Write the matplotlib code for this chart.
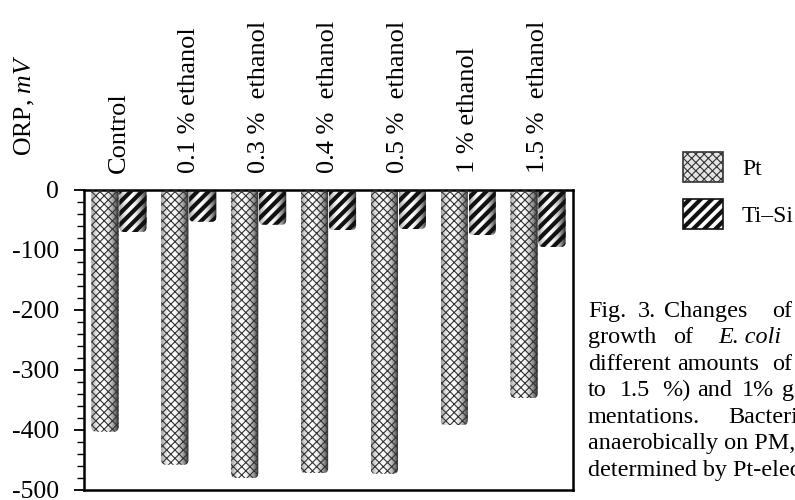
import numpy as np
import matplotlib
matplotlib.use('Agg')
import matplotlib.pyplot as plt
from matplotlib.patches import Patch, FancyBboxPatch
from matplotlib.ticker import MultipleLocator

# data
categories = ['Control', '0.1 % ethanol', '0.3 %  ethanol', '0.4 %  ethanol',
              '0.5 %  ethanol', '1 % ethanol', '1.5 %  ethanol']
pt_values = [-403, -458, -480, -472, -473, -392, -347]
tisi_values = [-70, -53, -58, -67, -65, -75, -95]
series_names = ['Pt', 'Ti\u2013Si']
yticks = [0, -100, -200, -300, -400, -500]

# caption words per line (justified text, cut off at the right edge)
caption_words = [['Fig.', '3.', 'Changes', 'of'],
                 ['growth', 'of', 'E. coli'],
                 ['different', 'amounts', 'of'],
                 ['to', '1.5', '%)', 'and', '1%', 'g'],
                 ['mentations.', 'Bacteri'],
                 ['anaerobically on PM,'],
                 ['determined by Pt-elec']]
italic_words = ['E. coli']

plt.rcParams['font.family'] = ['Liberation Serif', 'DejaVu Serif']
plt.rcParams['mathtext.fontset'] = 'custom'
plt.rcParams['mathtext.rm'] = 'Liberation Serif'
plt.rcParams['mathtext.it'] = 'Liberation Serif:italic'
plt.rcParams['axes.unicode_minus'] = False

W, H = 795, 500
fig = plt.figure(figsize=(W / 100, H / 100), dpi=100)
ax_box = [0.1057, 0.02, 0.615, 0.60]
ax = fig.add_axes(ax_box)
ax.set_xlim(-0.5, len(categories) - 0.5)
ax.set_ylim(-500, 0)

x = np.arange(len(categories))
w = 0.39

# pixel scale of the data units, used for rounding the bar ends
xunit_px = ax_box[2] * W / len(categories)
yunit_px = ax_box[3] * H / 500
aspect = xunit_px / yunit_px
rad = 5 / xunit_px

# horizontal shading to give the bars a cylinder look
prof = np.linspace(-1, 1, 64)
shade = (1.0 - 0.6 * np.abs(prof + 0.2) ** 2.0).reshape(1, -1)


def make_bars(vals, offset, hatch, hlw, hcolor):
    with plt.rc_context({'hatch.linewidth': hlw, 'hatch.color': hcolor}):
        bars = ax.bar(x + offset, vals, w, facecolor='none', edgecolor=hcolor,
                      linewidth=0, hatch=hatch, zorder=3)
    for b in bars:
        if hasattr(b, 'set_hatch_linewidth'):
            b.set_hatch_linewidth(hlw)
        x0, y0 = b.get_x(), b.get_y()
        bw, bh = b.get_width(), b.get_height()
        bottom = min(y0, y0 + bh)
        clip = FancyBboxPatch((x0, bottom), bw, abs(bh) + 40,
                              boxstyle='round,pad=0,rounding_size=%f' % rad,
                              mutation_aspect=aspect, transform=ax.transData)
        im = ax.imshow(shade, extent=[x0, x0 + bw, y0, y0 + bh],
                       cmap='gray', vmin=0, vmax=1, aspect='auto', zorder=2,
                       interpolation='bilinear')
        im.set_clip_path(clip)
        b.set_clip_path(clip)
    return bars


pt_bars = make_bars(pt_values, -0.2, 'xxxx', 0.8, '#333333')
ts_bars = make_bars(tisi_values, 0.2, '///', 3.0, '#111111')

ax.set_xlim(-0.5, len(categories) - 0.5)
ax.set_ylim(-500, 0)
ax.set_yticks(yticks)
ax.set_yticklabels([str(v) for v in yticks])
ax.yaxis.set_minor_locator(MultipleLocator(20))
ax.tick_params(axis='y', which='major', direction='out', length=7, width=1.3,
               labelsize=18.5, pad=11)
ax.tick_params(axis='y', which='minor', direction='out', length=5, width=1.0)

ax.set_xticks(x)
ax.set_xticklabels(categories, rotation=90, fontsize=19)
ax.xaxis.set_ticks_position('top')
ax.tick_params(axis='x', length=0, pad=12)

for s in ax.spines.values():
    s.set_linewidth(1.8)

fig.text(25 / W, 1 - 105 / H, 'ORP, $\\mathit{mV}$', rotation=90,
         ha='center', va='center', fontsize=18.5)

# legend
h1 = Patch(facecolor='#e4e4e4', edgecolor='#333333', hatch='xxxx', linewidth=1.2)
h2 = Patch(facecolor='white', edgecolor='#111111', hatch='///', linewidth=1.2)
leg = fig.legend([h1, h2], series_names, loc='upper left',
                 bbox_to_anchor=(683 / W, 1 - 152 / H), frameon=False, fontsize=17,
                 handlelength=1.7, handleheight=1.6, handletextpad=0.8,
                 labelspacing=0.7, borderpad=0, borderaxespad=0)
for p, lw in zip(leg.get_patches(), [0.8, 3.0]):
    if hasattr(p, 'set_hatch_linewidth'):
        p.set_hatch_linewidth(lw)

# caption, laid out word by word like the justified source text
line_y = [317, 343, 370, 396, 423, 449, 476]
word_x = [[588, 638, 664, 772],
          [588, 673, 718],
          [588, 677, 772],
          [588, 620, 662, 697, 742, 782],
          [588, 728],
          [588],
          [588]]
for words, xs, yy in zip(caption_words, word_x, line_y):
    for wd, xx in zip(words, xs):
        fig.text(xx / W, 1 - yy / H, wd, ha='left', va='baseline', fontsize=17.4,
                 style='italic' if wd in italic_words else 'normal')

fig.savefig('out.png', dpi=100)
